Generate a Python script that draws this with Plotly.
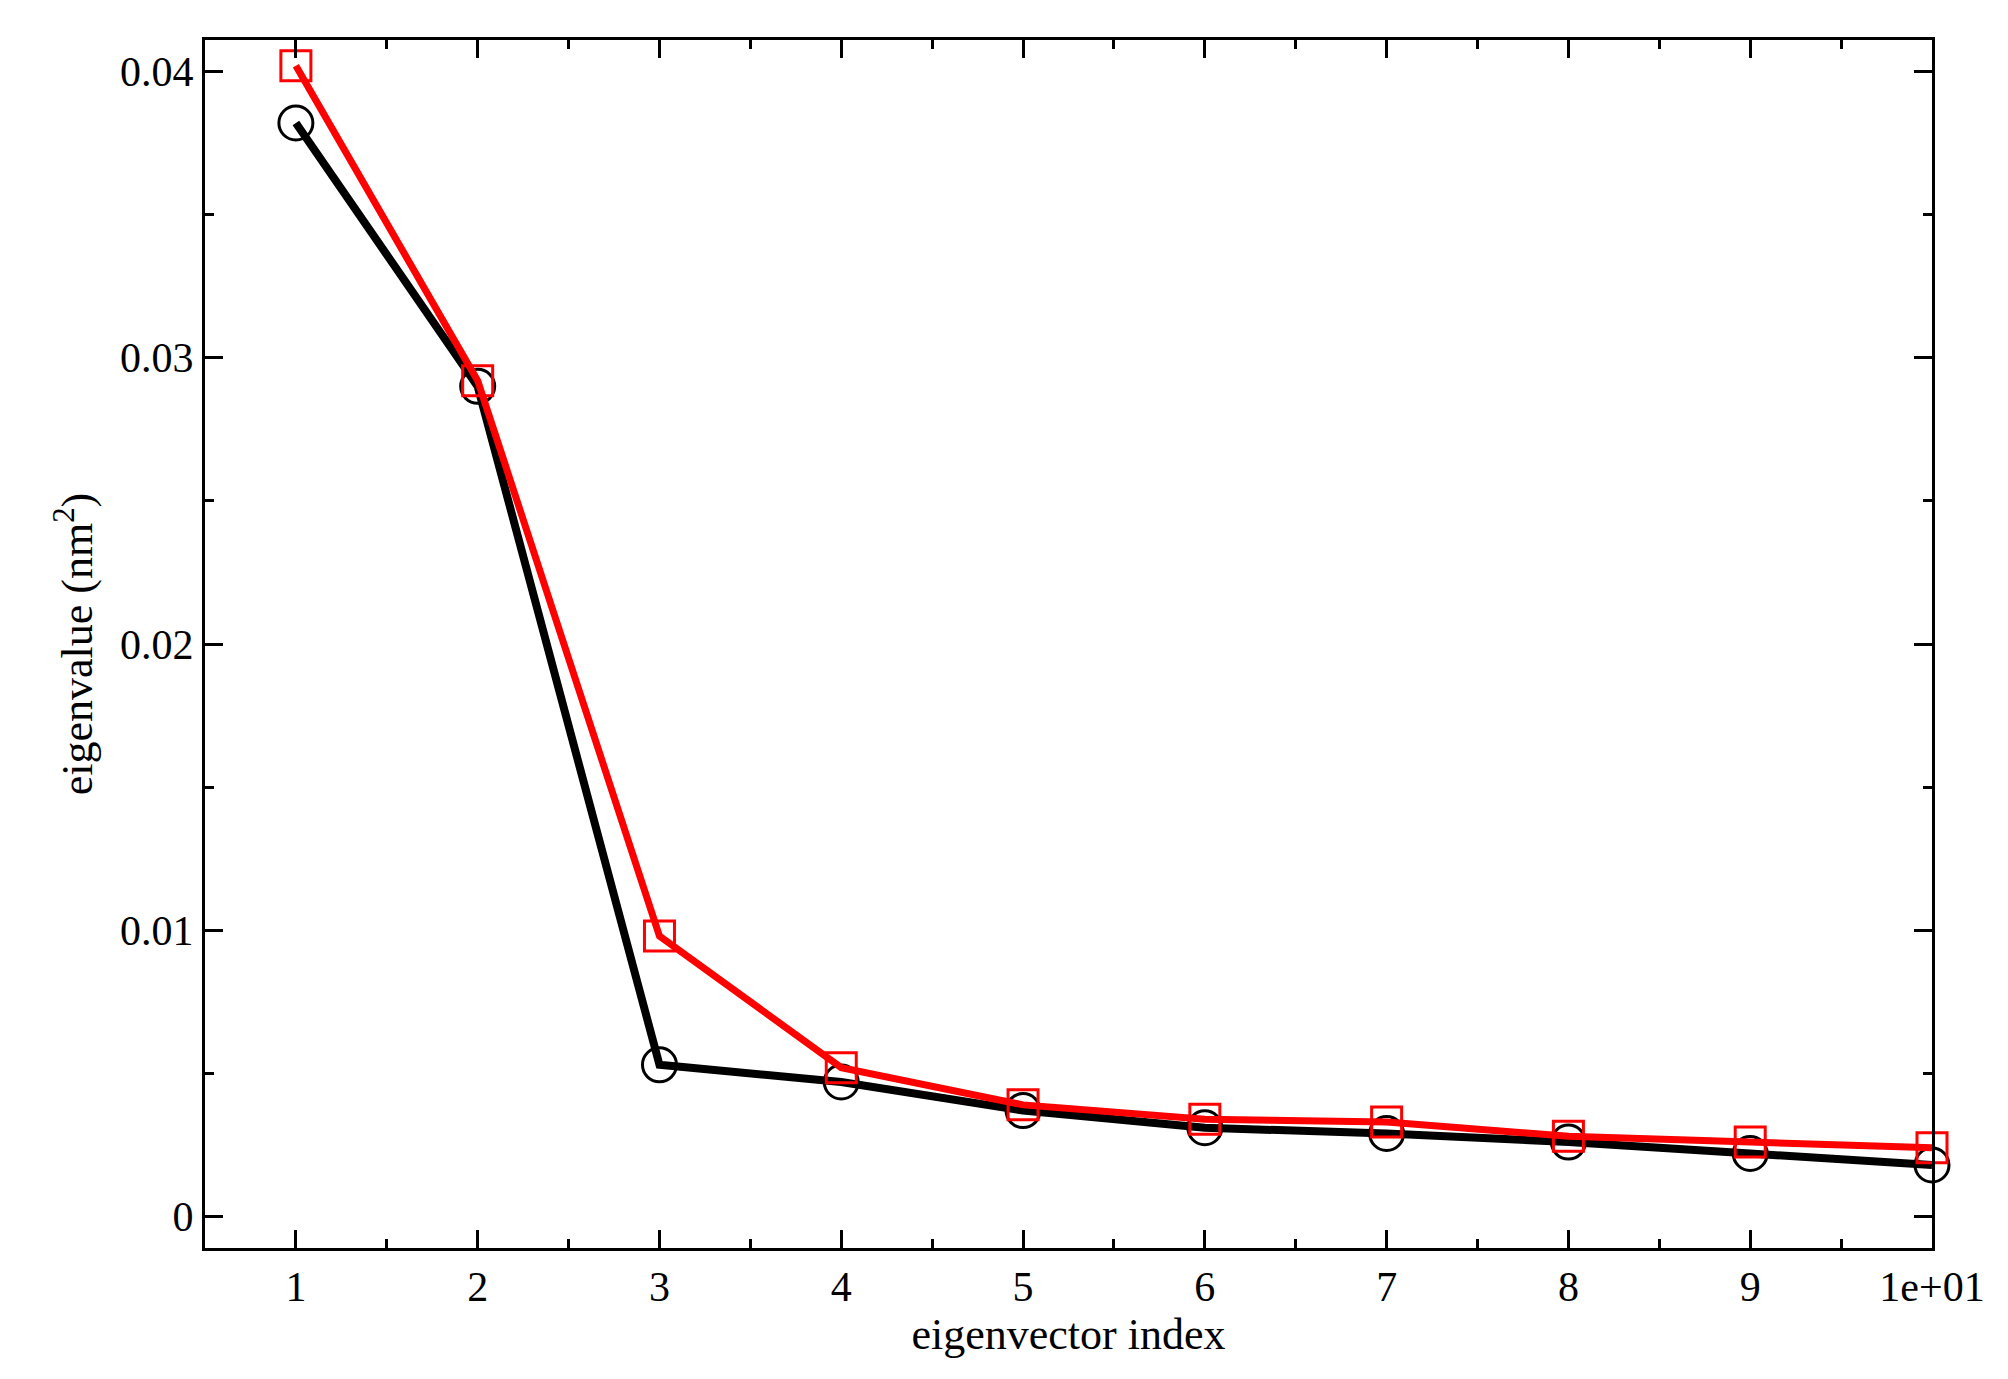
import plotly.graph_objects as go

index = [1, 2, 3, 4, 5, 6, 7, 8, 9, 10]
black_vals = [0.0382, 0.0290, 0.0053, 0.0047, 0.0037, 0.0031, 0.0029, 0.0026, 0.0022, 0.0018]
red_vals = [0.0402, 0.0292, 0.0098, 0.0052, 0.0039, 0.0034, 0.0033, 0.0028, 0.0026, 0.0024]
x_ticktext = ["1", "2", "3", "4", "5", "6", "7", "8", "9", "1e+01"]
y_tickvals = [0, 0.01, 0.02, 0.03, 0.04]
y_ticktext = ["0", "0.01", "0.02", "0.03", "0.04"]

font = "Liberation Serif"

fig = go.Figure()
fig.add_trace(go.Scatter(
    x=index, y=black_vals, mode="lines+markers", cliponaxis=False,
    line=dict(color="black", width=8),
    marker=dict(symbol="circle-open", size=34, color="black", line=dict(width=3)),
))
fig.add_trace(go.Scatter(
    x=index, y=red_vals, mode="lines+markers", cliponaxis=False,
    line=dict(color="red", width=7),
    marker=dict(symbol="square-open", size=30, color="red", line=dict(width=3)),
))

axis_common = dict(
    showgrid=False, zeroline=False, showline=True, linecolor="black", linewidth=3,
    mirror="allticks", ticks="inside", ticklen=18, tickwidth=3, tickcolor="black",
    tickfont=dict(family=font, size=42, color="black"),
)

fig.update_layout(
    width=2008, height=1379, showlegend=False,
    paper_bgcolor="white", plot_bgcolor="white",
    margin=dict(l=197, r=84, t=32, b=139),
    xaxis=dict(
        range=[0.5, 10], tickvals=index, ticktext=x_ticktext,
        minor=dict(dtick=0.5, tick0=0.5, ticks="inside", ticklen=9, tickwidth=3, tickcolor="black"),
        title=dict(text="eigenvector index", font=dict(family=font, size=44, color="black"), standoff=4),
        **axis_common,
    ),
    yaxis=dict(
        range=[-0.0011, 0.0411], tickvals=y_tickvals, ticktext=y_ticktext,
        minor=dict(dtick=0.005, tick0=0, ticks="inside", ticklen=9, tickwidth=3, tickcolor="black"),
        title=dict(text="eigenvalue (nm<sup>2</sup>)", font=dict(family=font, size=44, color="black"), standoff=14),
        **axis_common,
    ),
)

fig.write_html("out.html")
